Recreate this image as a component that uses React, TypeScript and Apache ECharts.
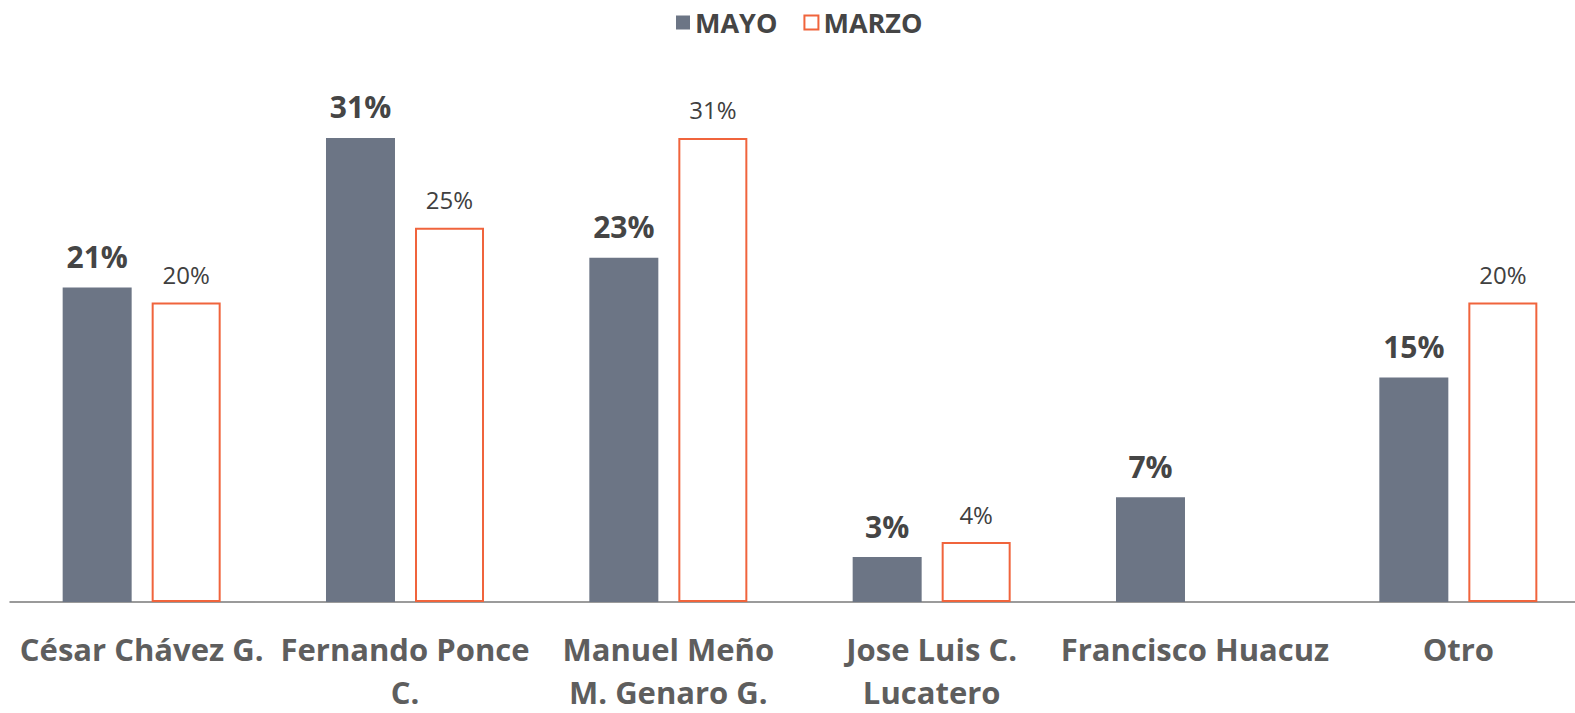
import React, { useEffect, useRef } from "react";
import * as echarts from "echarts";

const categories = [
  "César Chávez G.",
  "Fernando Ponce\nC.",
  "Manuel Meño\nM. Genaro G.",
  "Jose Luis C.\nLucatero",
  "Francisco Huacuz",
  "Otro",
];
const mayo = [21, 31, 23, 3, 7, 15];
const marzo: (number | null)[] = [20, 25, 31, 4, null, 20];

const FONT = "'Open Sans', Lato, sans-serif";

export default function App() {
  const ref = useRef<HTMLDivElement>(null);
  useEffect(() => {
    if (!ref.current) return;
    const chart = echarts.init(ref.current, null, { renderer: "svg" });
    chart.setOption({
      animation: false,
      backgroundColor: "#ffffff",
      textStyle: { fontFamily: FONT },
      legend: {
        top: 4,
        left: 671,
        itemWidth: 14,
        itemHeight: 14,
        itemGap: 26,
        icon: "rect",
        textStyle: { fontSize: 27, fontWeight: "bold", color: "#454545", fontFamily: FONT },
        data: ["MAYO", "MARZO"],
      },
      grid: { left: 10, right: 0, top: 78, bottom: 103, containLabel: false },
      xAxis: {
        type: "category",
        data: categories,
        axisTick: { show: false },
        axisLine: { lineStyle: { color: "#7a7a7a", width: 1.5 } },
        axisLabel: {
          interval: 0,
          margin: 25,
          fontSize: 31,
          fontWeight: "bold",
          color: "#5e5e5e",
          lineHeight: 43,
          fontFamily: FONT,
        },
      },
      yAxis: {
        type: "value",
        min: 0,
        max: 35,
        show: false,
        splitLine: { show: false },
      },
      series: [
        {
          name: "MAYO",
          type: "bar",
          data: mayo,
          barWidth: 69,
          barGap: "29%",
          itemStyle: { color: "#6c7585" },
          label: {
            show: true,
            position: "top",
            distance: 16,
            formatter: "{c}%",
            fontSize: 30,
            fontWeight: "bold",
            color: "#454545",
            fontFamily: FONT,
          },
        },
        {
          name: "MARZO",
          type: "bar",
          data: marzo,
          barWidth: 69,
          itemStyle: { color: "#ffffff", borderColor: "#f0643c", borderWidth: 2 },
          label: {
            show: true,
            position: "top",
            distance: 16,
            formatter: "{c}%",
            fontSize: 24,
            color: "#404040",
            fontFamily: FONT,
          },
        },
      ],
    });
    return () => chart.dispose();
  }, []);
  return (
    <div
      style={{
        position: "absolute",
        left: 0,
        top: 0,
        width: 1575,
        height: 713,
        overflow: "hidden",
        background: "#fff",
      }}
    >
      <div ref={ref} style={{ width: 1590, height: 713 }} />
    </div>
  );
}
